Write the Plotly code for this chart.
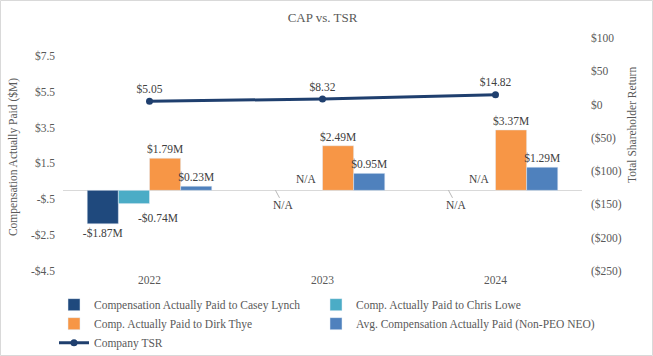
import plotly.graph_objects as go

years = ["2022", "2023", "2024"]
casey_lynch = [-1.87, None, None]
chris_lowe = [-0.74, None, None]
dirk_thye = [1.79, 2.49, 3.37]
avg_neo = [0.23, 0.95, 1.29]
company_tsr = [5.05, 8.32, 14.82]

left_tickvals = [7.5, 5.5, 3.5, 1.5, -0.5, -2.5, -4.5]
left_ticktext = ["$7.5", "$5.5", "$3.5", "$1.5", "-$.5", "-$2.5", "-$4.5"]
right_tickvals = [100, 50, 0, -50, -100, -150, -200, -250]
right_ticktext = ["$100", "$50", "$0", "($50)", "($100)", "($150)", "($200)", "($250)"]

FONT = "Liberation Serif, Times New Roman, DejaVu Serif, serif"
GRAY = "#595959"
LABEL = "#404040"
FS = 11.5


def money(v):
    if v is None:
        return ""
    return f"-${abs(v):.2f}M" if v < 0 else f"${v:.2f}M"


# (name, values, colour, legend, bar offset in px, label via annotation?)
series = [
    ("Compensation Actually Paid to Casey Lynch", casey_lynch, "#1F497D", "legend", False),
    ("Comp. Actually Paid to Chris Lowe", chris_lowe, "#4BACC6", "legend2", True),
    ("Comp. Actually Paid to Dirk Thye", dirk_thye, "#F79646", "legend", False),
    ("Avg. Compensation Actually Paid (Non-PEO NEO)", avg_neo, "#4F81BD", "legend2", False),
]

fig = go.Figure()
annotations = []
for name, vals, color, leg, shifted_label in series:
    fig.add_trace(go.Bar(
        x=years, y=vals, name=name, marker_color=color, legend=leg,
        text=None if shifted_label else [money(v) for v in vals],
        textposition="outside", constraintext="none",
        textfont=dict(family=FONT, size=FS, color=LABEL),
        cliponaxis=False,
    ))
    if shifted_label:
        for i, v in enumerate(vals):
            if v is not None:
                annotations.append(dict(
                    x=i, y=v, xref="x", yref="y", text=money(v), showarrow=False,
                    xshift=8, yshift=-6, yanchor="top",
                    font=dict(family=FONT, size=FS, color=LABEL)))

fig.add_trace(go.Scatter(
    x=years, y=company_tsr, name="Company TSR", yaxis="y2", legend="legend",
    mode="lines+markers+text",
    line=dict(color="#1F3F6E", width=3),
    marker=dict(size=7, color="#1F3F6E"),
    text=[f"${v:.2f}" for v in company_tsr], textposition="top center",
    textfont=dict(family=FONT, size=FS, color=LABEL),
    cliponaxis=False,
))

# N/A annotations for missing values (x given as category index)
for i, y in enumerate(years):
    if casey_lynch[i] is None:
        annotations.append(dict(
            x=i, y=0, xref="x", yref="y", text="N/A", showarrow=True,
            arrowhead=0, arrowwidth=0.8, arrowcolor="#A6A6A6",
            ax=8, ay=15, xshift=-47,
            font=dict(family=FONT, size=FS, color=LABEL)))
    if chris_lowe[i] is None:
        annotations.append(dict(
            x=i, y=0, xref="x", yref="y", text="N/A", showarrow=False,
            xshift=-16, yshift=11,
            font=dict(family=FONT, size=FS, color=LABEL)))

# axis titles
annotations.append(dict(
    text="Compensation Actually Paid ($M)", xref="paper", yref="paper",
    x=0, xshift=-50, y=0.489, xanchor="center", yanchor="middle",
    textangle=-90, showarrow=False,
    font=dict(family=FONT, size=FS, color=GRAY)))
annotations.append(dict(
    text="Total Shareholder Return", xref="paper", yref="paper",
    x=1, xshift=50, y=0.627, xanchor="center", yanchor="middle",
    textangle=-90, showarrow=False,
    font=dict(family=FONT, size=FS, color=GRAY)))

legend_style = dict(orientation="v", xanchor="left", xref="container",
                    yref="container", y=0.185, yanchor="top",
                    font=dict(family=FONT, size=FS, color=GRAY),
                    traceorder="normal", bgcolor="rgba(0,0,0,0)")

fig.update_layout(
    width=653, height=356,
    margin=dict(l=63, r=71, t=38, b=85, autoexpand=False),
    paper_bgcolor="white", plot_bgcolor="white",
    font=dict(family=FONT, size=FS, color=GRAY),
    title=dict(text="CAP vs. TSR", x=0.5, xanchor="center", y=0.952, yanchor="middle",
               xref="paper",
               font=dict(family=FONT, size=13, color=GRAY)),
    barmode="group", bargap=0.28, bargroupgap=0,
    showlegend=True,
    legend=dict(x=54 / 653, **legend_style),
    legend2=dict(x=316 / 653, **legend_style),
    xaxis=dict(type="category", range=[-0.5, 2.5], autorange=False,
               showgrid=False, showline=False, ticks="", automargin=False,
               tickfont=dict(family=FONT, size=FS, color=GRAY)),
    yaxis=dict(range=[-4.5, 8.5], tickvals=left_tickvals, ticktext=left_ticktext,
               showgrid=False, zeroline=True, zerolinecolor="#D9D9D9", zerolinewidth=1,
               showline=False, ticks="", automargin=False, ticklabelstandoff=7,
               tickfont=dict(family=FONT, size=FS, color=GRAY)),
    yaxis2=dict(range=[-250, 100], tickvals=right_tickvals, ticktext=right_ticktext,
                overlaying="y", side="right", showgrid=False, zeroline=False,
                showline=False, ticks="", automargin=False, ticklabelstandoff=8,
                tickfont=dict(family=FONT, size=FS, color=GRAY)),
    annotations=annotations,
)

# light border around the chart
fig.add_shape(type="rect", xref="paper", yref="paper",
              x0=-62.5 / 519, x1=1 + 70.5 / 519, y0=-84.5 / 233, y1=1 + 37.5 / 233,
              line=dict(color="#D9D9D9", width=1), layer="below")

fig.write_html("out.html", config={"displayModeBar": False},
               post_script="document.body.style.margin='0';")
